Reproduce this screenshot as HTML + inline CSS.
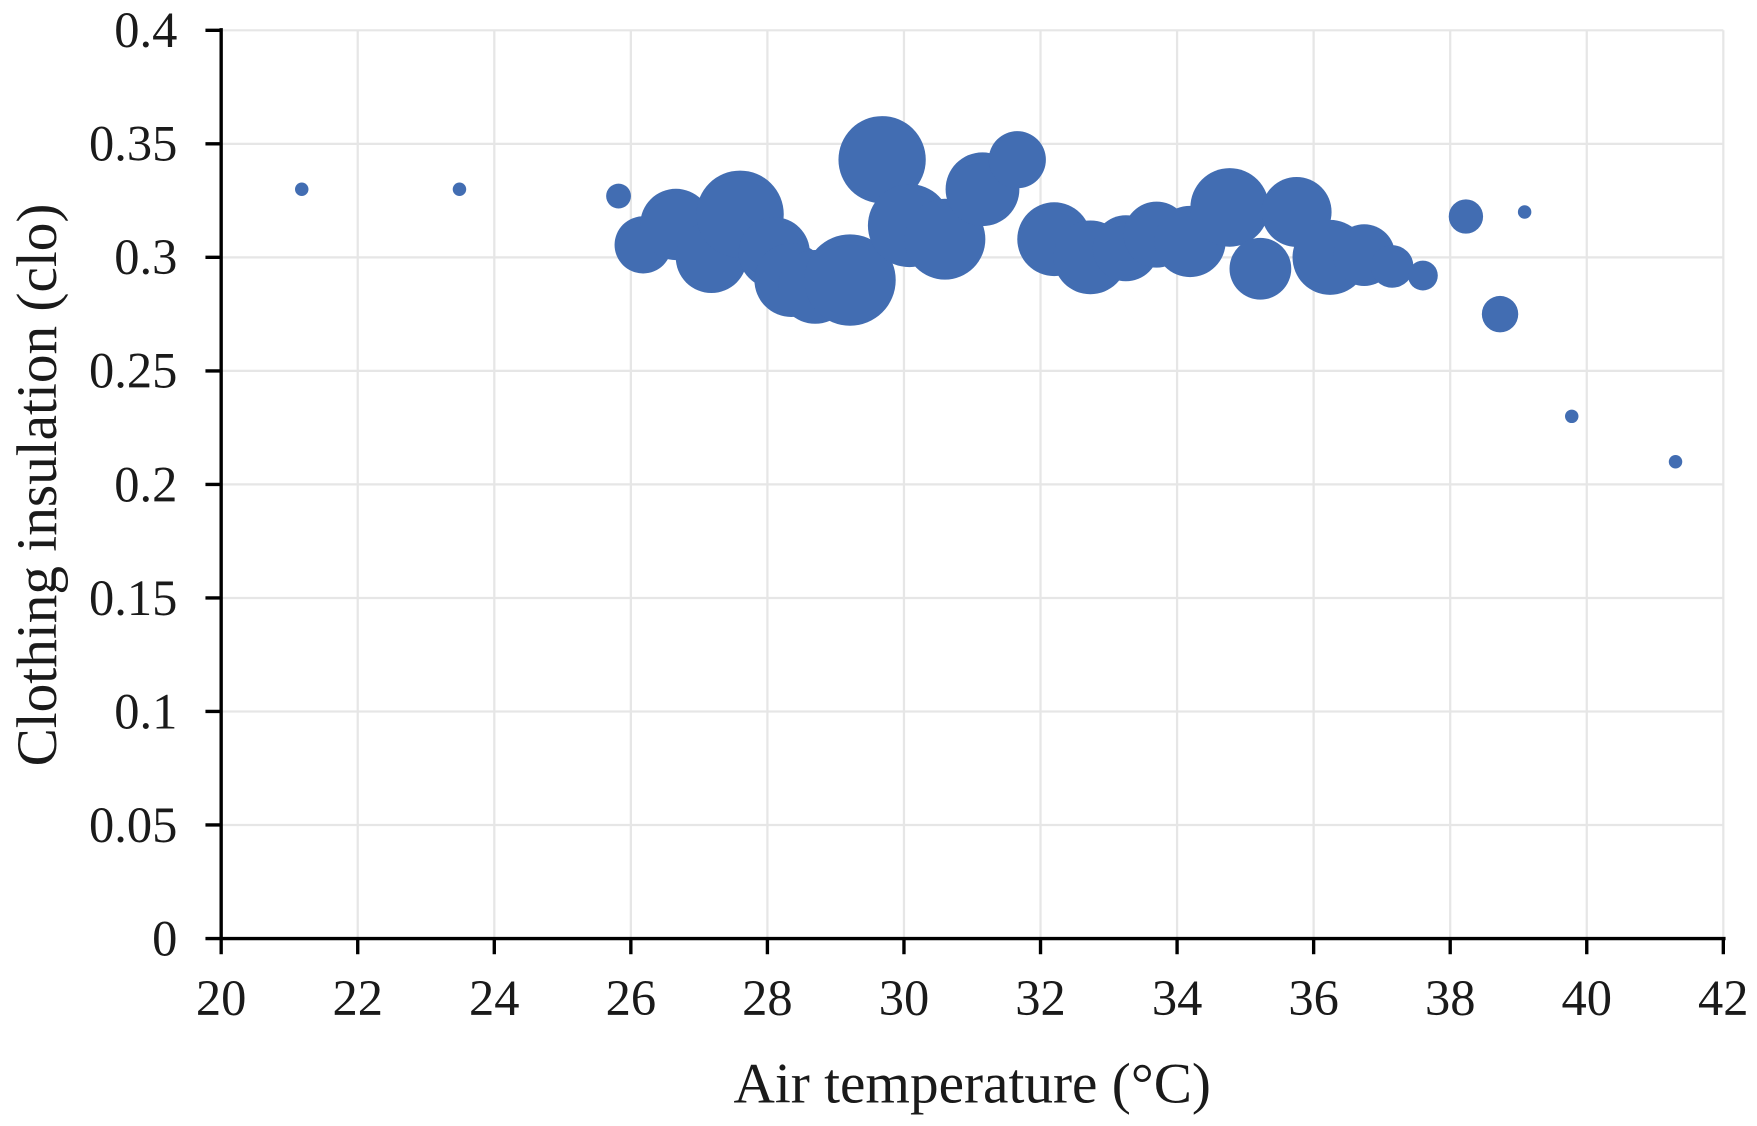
<!DOCTYPE html>
<html><head><meta charset="utf-8"><style>
html,body{margin:0;padding:0;background:#fff;}
svg text{font-family:"Liberation Serif",serif;fill:#1a1a1a;}
</style></head><body>
<svg id="chart" width="1757" height="1126" viewBox="0 0 1565 1003" preserveAspectRatio="none" xmlns="http://www.w3.org/2000/svg" style="display:block"></svg>
<script>
const xTicks=[20,22,24,26,28,30,32,34,36,38,40,42];
const yTicks=[0,0.05,0.1,0.15,0.2,0.25,0.3,0.35,0.4];
const yTickLabels=["0","0.05","0.1","0.15","0.2","0.25","0.3","0.35","0.4"];
const temps=[21.18,23.49,25.82,26.18,26.66,27.18,27.6,28.1,28.35,28.7,29.21,29.68,30.08,30.6,31.15,31.66,32.2,32.73,33.25,33.7,34.19,34.77,35.22,35.75,36.24,36.74,37.15,37.6,38.23,38.73,39.09,39.78,41.3];
const clo=[0.330,0.330,0.327,0.3055,0.3145,0.300,0.319,0.302,0.290,0.287,0.290,0.343,0.314,0.308,0.330,0.343,0.308,0.300,0.304,0.310,0.307,0.322,0.295,0.320,0.300,0.301,0.296,0.292,0.318,0.275,0.320,0.230,0.210];
const counts=[1,1,3.4,18,28,28,42,28,30,30,46,42,38,36,30,18,30,30,24,24,28,34,21,27,31,21,10,4.9,6.5,7.3,1,1,1];

const svg=document.getElementById('chart');
const NS='http://www.w3.org/2000/svg';
const X0=197,X1=1535,Y0=836,Y1=27;
const xs=v=>X0+(v-20)/(42-20)*(X1-X0);
const ys=v=>Y0-(v-0)/(0.4)*(Y0-Y1);
function mk(tag,attrs,parent){const e=document.createElementNS(NS,tag);for(const k in attrs)e.setAttribute(k,attrs[k]);(parent||svg).appendChild(e);return e;}

const grid=mk('g',{});


xTicks.forEach(t=>{if(t>20)mk('line',{x1:xs(t),x2:xs(t),y1:Y1,y2:Y0,stroke:'#e6e6e6','stroke-width':2},grid);});
yTicks.forEach(t=>{if(t>0)mk('line',{x1:X0,x2:X1,y1:ys(t),y2:ys(t),stroke:'#e6e6e6','stroke-width':2},grid);});

const pts=mk('g',{});


temps.forEach((t,i)=>{
  const c=mk('circle',{cx:xs(t),cy:ys(clo[i]),r:6*Math.sqrt(counts[i]),fill:'#426db2'},pts);
  
  
});

const ax=mk('g',{});


mk('line',{x1:X0,x2:X0,y1:Y1-2,y2:Y0+1,stroke:'#000','stroke-width':3},ax);
mk('line',{x1:X0-1,x2:X1+2,y1:Y0,y2:Y0,stroke:'#000','stroke-width':3},ax);
xTicks.forEach(t=>{
  mk('line',{x1:xs(t),x2:xs(t),y1:Y0,y2:Y0+14,stroke:'#000','stroke-width':3},ax);
  const tx=mk('text',{x:xs(t),y:904,'font-size':45,'text-anchor':'middle'},ax);
  tx.textContent=t;
  
  
});
yTicks.forEach((t,i)=>{
  mk('line',{x1:X0-14,x2:X0,y1:ys(t),y2:ys(t),stroke:'#000','stroke-width':3},ax);
  const tx=mk('text',{x:158,y:ys(t)+15,'font-size':45,'text-anchor':'end'},ax);
  tx.textContent=yTickLabels[i];
  
  
});
const xt=mk('text',{x:866,y:982,'font-size':51,'text-anchor':'middle'});
xt.textContent='Air temperature (\u00B0C)';


const yt=mk('text',{x:0,y:0,'font-size':51,'text-anchor':'middle',transform:'translate(50,432) rotate(-90)'});
yt.textContent='Clothing insulation (clo)';


</script>
</body></html>
